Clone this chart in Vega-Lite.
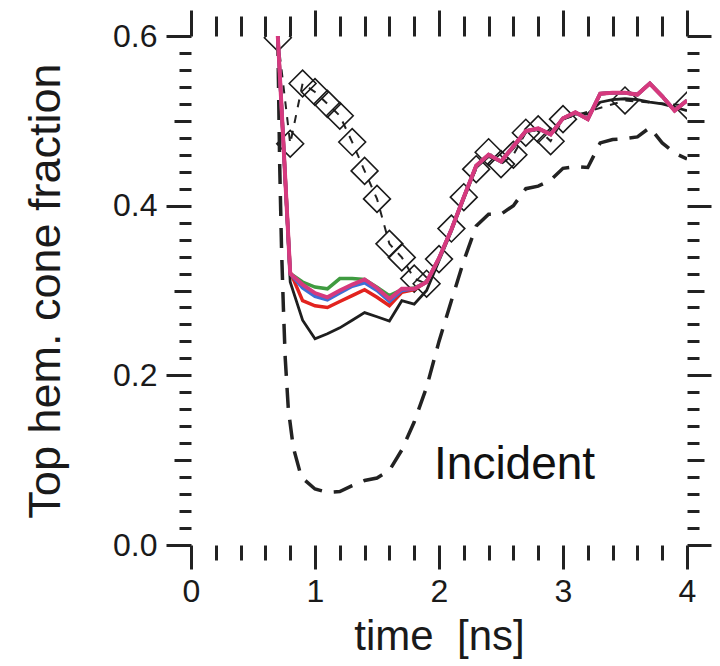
{
  "$schema": "https://vega.github.io/schema/vega-lite/v6.json",
  "autosize": {"type": "none"},
  "padding": {"left": 191, "top": 36, "right": 33, "bottom": 121},
  "width": 496,
  "height": 509,
  "background": "white",
  "config": {
    "view": {"stroke": null},
    "font": "Liberation Sans",
    "axis": {
      "domain": false,
      "grid": false,
      "labelFlush": false,
      "tickColor": "#222222",
      "tickWidth": 3,
      "labelColor": "#1a1a1a",
      "titleColor": "#1a1a1a",
      "labelFont": "Liberation Sans",
      "titleFont": "Liberation Sans",
      "titleFontWeight": "normal"
    }
  },
  "datasets": {
    "runs": [
      {"t": 0.7, "k": 0.600, "g": 0.600, "b": 0.600, "r": 0.600, "m": 0.600},
      {"t": 0.8, "k": 0.310, "g": 0.320, "b": 0.320, "r": 0.322, "m": 0.320},
      {"t": 0.9, "k": 0.265, "g": 0.310, "b": 0.303, "r": 0.288, "m": 0.307},
      {"t": 1.0, "k": 0.243, "g": 0.304, "b": 0.293, "r": 0.282, "m": 0.297},
      {"t": 1.1, "k": 0.249, "g": 0.302, "b": 0.289, "r": 0.280, "m": 0.292},
      {"t": 1.2, "k": 0.256, "g": 0.314, "b": 0.297, "r": 0.287, "m": 0.300},
      {"t": 1.3, "k": 0.265, "g": 0.314, "b": 0.305, "r": 0.294, "m": 0.307},
      {"t": 1.4, "k": 0.274, "g": 0.313, "b": 0.309, "r": 0.301, "m": 0.313},
      {"t": 1.5, "k": 0.269, "g": 0.304, "b": 0.300, "r": 0.292, "m": 0.303},
      {"t": 1.6, "k": 0.264, "g": 0.294, "b": 0.287, "r": 0.282, "m": 0.290},
      {"t": 1.7, "k": 0.288, "g": 0.301, "b": 0.300, "r": 0.298, "m": 0.302},
      {"t": 1.8, "k": 0.284, "g": 0.303, "b": 0.302, "r": 0.301, "m": 0.302},
      {"t": 1.9, "k": 0.300, "g": 0.310, "b": 0.310, "r": 0.310, "m": 0.310},
      {"t": 2.0, "k": 0.335, "g": 0.338, "b": 0.338, "r": 0.338, "m": 0.338},
      {"t": 2.1, "k": 0.370, "g": 0.372, "b": 0.372, "r": 0.372, "m": 0.372},
      {"t": 2.2, "k": 0.408, "g": 0.410, "b": 0.410, "r": 0.410, "m": 0.410},
      {"t": 2.3, "k": 0.445, "g": 0.447, "b": 0.447, "r": 0.447, "m": 0.447},
      {"t": 2.4, "k": 0.458, "g": 0.460, "b": 0.460, "r": 0.460, "m": 0.460},
      {"t": 2.5, "k": 0.452, "g": 0.452, "b": 0.452, "r": 0.452, "m": 0.452},
      {"t": 2.6, "k": 0.468, "g": 0.470, "b": 0.470, "r": 0.470, "m": 0.470},
      {"t": 2.7, "k": 0.487, "g": 0.488, "b": 0.488, "r": 0.488, "m": 0.488},
      {"t": 2.8, "k": 0.490, "g": 0.491, "b": 0.491, "r": 0.491, "m": 0.491},
      {"t": 2.9, "k": 0.485, "g": 0.484, "b": 0.484, "r": 0.484, "m": 0.484},
      {"t": 3.0, "k": 0.502, "g": 0.503, "b": 0.503, "r": 0.503, "m": 0.503},
      {"t": 3.1, "k": 0.508, "g": 0.510, "b": 0.510, "r": 0.510, "m": 0.510},
      {"t": 3.2, "k": 0.508, "g": 0.502, "b": 0.502, "r": 0.502, "m": 0.502},
      {"t": 3.3, "k": 0.522, "g": 0.532, "b": 0.532, "r": 0.532, "m": 0.532},
      {"t": 3.4, "k": 0.525, "g": 0.533, "b": 0.533, "r": 0.533, "m": 0.533},
      {"t": 3.5, "k": 0.526, "g": 0.533, "b": 0.533, "r": 0.533, "m": 0.533},
      {"t": 3.6, "k": 0.525, "g": 0.531, "b": 0.531, "r": 0.531, "m": 0.531},
      {"t": 3.7, "k": 0.522, "g": 0.544, "b": 0.544, "r": 0.544, "m": 0.544},
      {"t": 3.8, "k": 0.520, "g": 0.529, "b": 0.529, "r": 0.529, "m": 0.529},
      {"t": 3.9, "k": 0.516, "g": 0.512, "b": 0.512, "r": 0.512, "m": 0.512},
      {"t": 4.0, "k": 0.512, "g": 0.524, "b": 0.524, "r": 0.524, "m": 0.524}
    ],
    "incident": [
      {"t": 0.700, "v": 0.600}, {"t": 0.705, "v": 0.550}, {"t": 0.715, "v": 0.450},
      {"t": 0.730, "v": 0.350}, {"t": 0.745, "v": 0.280}, {"t": 0.760, "v": 0.220},
      {"t": 0.785, "v": 0.160}, {"t": 0.825, "v": 0.115}, {"t": 0.890, "v": 0.080},
      {"t": 1.0, "v": 0.066}, {"t": 1.1, "v": 0.062}, {"t": 1.2, "v": 0.063},
      {"t": 1.3, "v": 0.070}, {"t": 1.4, "v": 0.076}, {"t": 1.5, "v": 0.079},
      {"t": 1.6, "v": 0.088}, {"t": 1.7, "v": 0.112}, {"t": 1.8, "v": 0.145},
      {"t": 1.9, "v": 0.186}, {"t": 2.0, "v": 0.240}, {"t": 2.1, "v": 0.288},
      {"t": 2.2, "v": 0.335}, {"t": 2.3, "v": 0.376}, {"t": 2.4, "v": 0.390},
      {"t": 2.5, "v": 0.390}, {"t": 2.6, "v": 0.400}, {"t": 2.7, "v": 0.420},
      {"t": 2.8, "v": 0.423}, {"t": 2.9, "v": 0.430}, {"t": 3.0, "v": 0.444},
      {"t": 3.1, "v": 0.446}, {"t": 3.2, "v": 0.445}, {"t": 3.3, "v": 0.474},
      {"t": 3.4, "v": 0.478}, {"t": 3.5, "v": 0.479}, {"t": 3.6, "v": 0.481},
      {"t": 3.7, "v": 0.492}, {"t": 3.8, "v": 0.474}, {"t": 3.9, "v": 0.462},
      {"t": 4.0, "v": 0.455}
    ],
    "diamonds": [
      {"t": 0.7, "v": 0.598}, {"t": 0.8, "v": 0.473}, {"t": 0.9, "v": 0.544},
      {"t": 1.0, "v": 0.534}, {"t": 1.1, "v": 0.520}, {"t": 1.2, "v": 0.506},
      {"t": 1.3, "v": 0.475}, {"t": 1.4, "v": 0.441}, {"t": 1.5, "v": 0.408},
      {"t": 1.6, "v": 0.355}, {"t": 1.7, "v": 0.339}, {"t": 1.8, "v": 0.314},
      {"t": 1.9, "v": 0.308}, {"t": 2.0, "v": 0.337}, {"t": 2.1, "v": 0.373},
      {"t": 2.2, "v": 0.410}, {"t": 2.3, "v": 0.443}, {"t": 2.4, "v": 0.463},
      {"t": 2.5, "v": 0.449}, {"t": 2.6, "v": 0.460}, {"t": 2.7, "v": 0.486},
      {"t": 2.8, "v": 0.490}, {"t": 2.9, "v": 0.476}, {"t": 3.0, "v": 0.502},
      {"t": 3.5, "v": 0.524}, {"t": 4.0, "v": 0.518}
    ]
  },
  "resolve": {"axis": {"x": "independent", "y": "independent"}},
  "layer": [
    {
      "data": {"name": "diamonds"},
      "mark": {"type": "line", "color": "#222222", "strokeWidth": 2, "strokeDash": [8, 8], "clip": true},
      "encoding": {
        "x": {"field": "t", "type": "quantitative", "scale": {"domain": [0, 4], "nice": false, "zero": false},
              "axis": {"orient": "bottom", "values": [0, 1, 2, 3, 4], "format": "d", "tickSize": 24,
                       "labelFontSize": 32, "labelPadding": 7, "title": "time\u00a0 [ns]", "titleFontSize": 42, "titlePadding": 9}},
        "y": {"field": "v", "type": "quantitative", "scale": {"domain": [0, 0.6], "nice": false, "zero": false},
              "axis": {"orient": "left", "values": [0, 0.2, 0.4, 0.6], "format": ".1f", "tickSize": 25,
                       "labelFontSize": 32, "labelPadding": 9, "title": "Top hem. cone fraction", "titleFontSize": 45, "titlePadding": 44}}
      }
    },
    {
      "data": {"name": "diamonds"},
      "mark": {"type": "point", "shape": "diamond", "filled": false, "size": 720, "stroke": "#1a1a1a", "strokeWidth": 1.6, "opacity": 1, "clip": true},
      "encoding": {
        "x": {"field": "t", "type": "quantitative",
              "axis": {"orient": "top", "values": [0, 1, 2, 3, 4], "tickSize": 26, "labels": false, "title": null}},
        "y": {"field": "v", "type": "quantitative",
              "axis": {"orient": "right", "values": [0, 0.2, 0.4, 0.6], "tickSize": 24, "labels": false, "title": null}}
      }
    },
    {
      "data": {"name": "incident"},
      "mark": {"type": "line", "color": "#222222", "strokeWidth": 3.5, "strokeDash": [20, 12], "clip": true},
      "encoding": {
        "x": {"field": "t", "type": "quantitative",
              "axis": {"orient": "bottom", "values": [0.2, 0.4, 0.6, 0.8, 1.2, 1.4, 1.6, 1.8, 2.2, 2.4, 2.6, 2.8, 3.2, 3.4, 3.6, 3.8],
                       "tickSize": 15, "labels": false, "title": null}},
        "y": {"field": "v", "type": "quantitative",
              "axis": {"orient": "left", "values": [0.02, 0.04, 0.06, 0.08, 0.12, 0.14, 0.16, 0.18, 0.22, 0.24, 0.26, 0.28, 0.32, 0.34, 0.36, 0.38, 0.42, 0.44, 0.46, 0.48, 0.52, 0.54, 0.56, 0.58],
                       "tickSize": 12, "labels": false, "title": null}}
      }
    },
    {
      "data": {"name": "runs"},
      "mark": {"type": "line", "color": "#1e1e1e", "strokeWidth": 2.8, "clip": true},
      "encoding": {
        "x": {"field": "t", "type": "quantitative",
              "axis": {"orient": "top", "values": [0.2, 0.4, 0.6, 0.8, 1.2, 1.4, 1.6, 1.8, 2.2, 2.4, 2.6, 2.8, 3.2, 3.4, 3.6, 3.8],
                       "tickSize": 20, "labels": false, "title": null}},
        "y": {"field": "k", "type": "quantitative",
              "axis": {"orient": "right", "values": [0.02, 0.04, 0.06, 0.08, 0.12, 0.14, 0.16, 0.18, 0.22, 0.24, 0.26, 0.28, 0.32, 0.34, 0.36, 0.38, 0.42, 0.44, 0.46, 0.48, 0.52, 0.54, 0.56, 0.58],
                       "tickSize": 12, "labels": false, "title": null}}
      }
    },
    {
      "data": {"name": "runs"},
      "mark": {"type": "line", "color": "#3f9b40", "strokeWidth": 3.5, "clip": true},
      "encoding": {
        "x": {"field": "t", "type": "quantitative", "axis": null},
        "y": {"field": "g", "type": "quantitative",
              "axis": {"orient": "left", "values": [0.1, 0.3, 0.5], "tickSize": 17, "labels": false, "title": null}}
      }
    },
    {
      "data": {"name": "runs"},
      "mark": {"type": "line", "color": "#e2231f", "strokeWidth": 3.5, "clip": true},
      "encoding": {
        "x": {"field": "t", "type": "quantitative", "axis": null},
        "y": {"field": "r", "type": "quantitative",
              "axis": {"orient": "right", "values": [0.1, 0.3, 0.5], "tickSize": 17, "labels": false, "title": null}}
      }
    },
    {
      "data": {"name": "runs"},
      "mark": {"type": "line", "color": "#3d6fd6", "strokeWidth": 3.5, "clip": true},
      "encoding": {
        "x": {"field": "t", "type": "quantitative", "axis": null},
        "y": {"field": "b", "type": "quantitative", "axis": null}
      }
    },
    {
      "data": {"name": "runs"},
      "mark": {"type": "line", "color": "#d6397e", "strokeWidth": 4, "clip": true},
      "encoding": {
        "x": {"field": "t", "type": "quantitative", "axis": null},
        "y": {"field": "m", "type": "quantitative", "axis": null}
      }
    },
    {
      "data": {"values": [{"t": 1.96, "v": 0.078, "label": "Incident"}]},
      "mark": {"type": "text", "align": "left", "baseline": "alphabetic", "fontSize": 46, "font": "Liberation Sans", "color": "#111111"},
      "encoding": {
        "x": {"field": "t", "type": "quantitative", "axis": null},
        "y": {"field": "v", "type": "quantitative", "axis": null},
        "text": {"field": "label"}
      }
    }
  ]
}
